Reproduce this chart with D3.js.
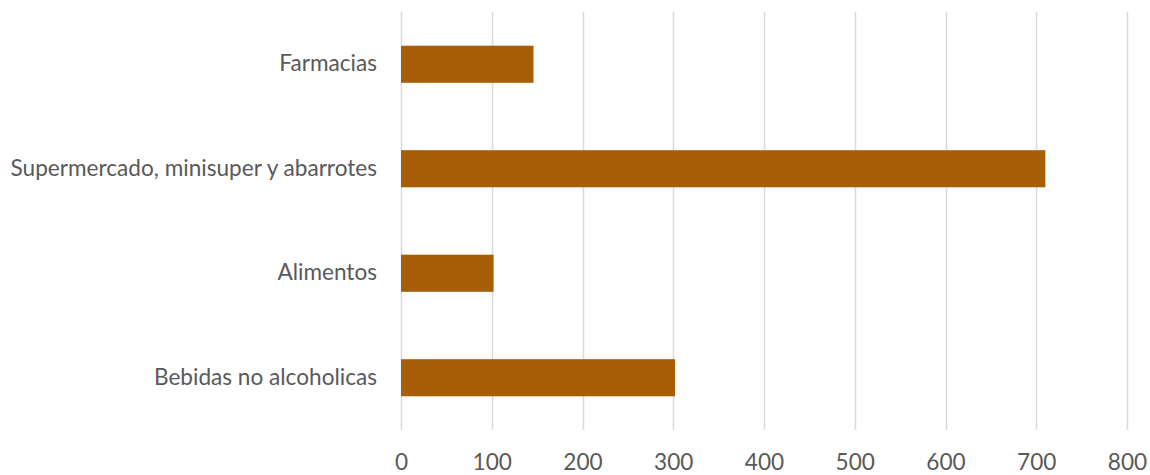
<!DOCTYPE html>
<html>
<head>
<meta charset="utf-8">
<script src="https://cdn.jsdelivr.net/npm/d3@7"></script>
<style>
  html, body { margin: 0; padding: 0; background: #fff; }
  svg { display: block; }
  text { font-family: Lato, "Open Sans", sans-serif; fill: #595959; }
</style>
</head>
<body>
<svg id="chart" width="1150" height="475"></svg>
<script>
// Categories, top to bottom
const categories = ["Farmacias", "Supermercado, minisuper y abarrotes", "Alimentos", "Bebidas no alcoholicas"];
// One value per category
const values = [146, 710, 102, 302];
// Axis ticks
const ticks = [0, 100, 200, 300, 400, 500, 600, 700, 800];

const width = 1150, height = 475;
const margin = { top: 12, right: 23, bottom: 45, left: 401 };

const svg = d3.select("#chart");

const x = d3.scaleLinear()
  .domain([0, 800])
  .range([margin.left, width - margin.right]);

const y = d3.scaleBand()
  .domain(categories)
  .range([margin.top, height - margin.bottom])
  .paddingInner(0.645)
  .paddingOuter(0.3225);

// Vertical gridlines
svg.append("g")
  .selectAll("line")
  .data(ticks)
  .join("line")
  .attr("x1", d => Math.round(x(d)) + 0.5)
  .attr("x2", d => Math.round(x(d)) + 0.5)
  .attr("y1", margin.top)
  .attr("y2", height - margin.bottom)
  .attr("stroke", "#d9d9d9")
  .attr("stroke-width", 1.5);

// Bars
svg.append("g")
  .selectAll("rect")
  .data(categories.map((c, i) => ({ c, v: values[i] })))
  .join("rect")
  .attr("x", x(0))
  .attr("y", d => y(d.c))
  .attr("width", d => x(d.v) - x(0))
  .attr("height", y.bandwidth())
  .attr("fill", "#a75e07");

// Bottom axis labels
const xAxis = d3.axisBottom(x).tickValues(ticks).tickSize(0).tickPadding(0);
const gx = svg.append("g")
  .attr("transform", `translate(0,${height - margin.bottom})`)
  .call(xAxis);
gx.select(".domain").remove();
gx.selectAll("text")
  .attr("dy", null)
  .attr("y", 40)
  .style("font-size", "22.6px")
  .style("font-family", "Lato, 'Open Sans', sans-serif")
  .attr("fill", "#595959");

// Left axis labels
const yAxis = d3.axisLeft(y).tickSize(0).tickPadding(24);
const gy = svg.append("g")
  .attr("transform", `translate(${margin.left},0)`)
  .call(yAxis);
gy.select(".domain").remove();
gy.selectAll("text")
  .style("font-size", "22.6px")
  .style("font-family", "Lato, 'Open Sans', sans-serif")
  .attr("fill", "#595959");
</script>
</body>
</html>
